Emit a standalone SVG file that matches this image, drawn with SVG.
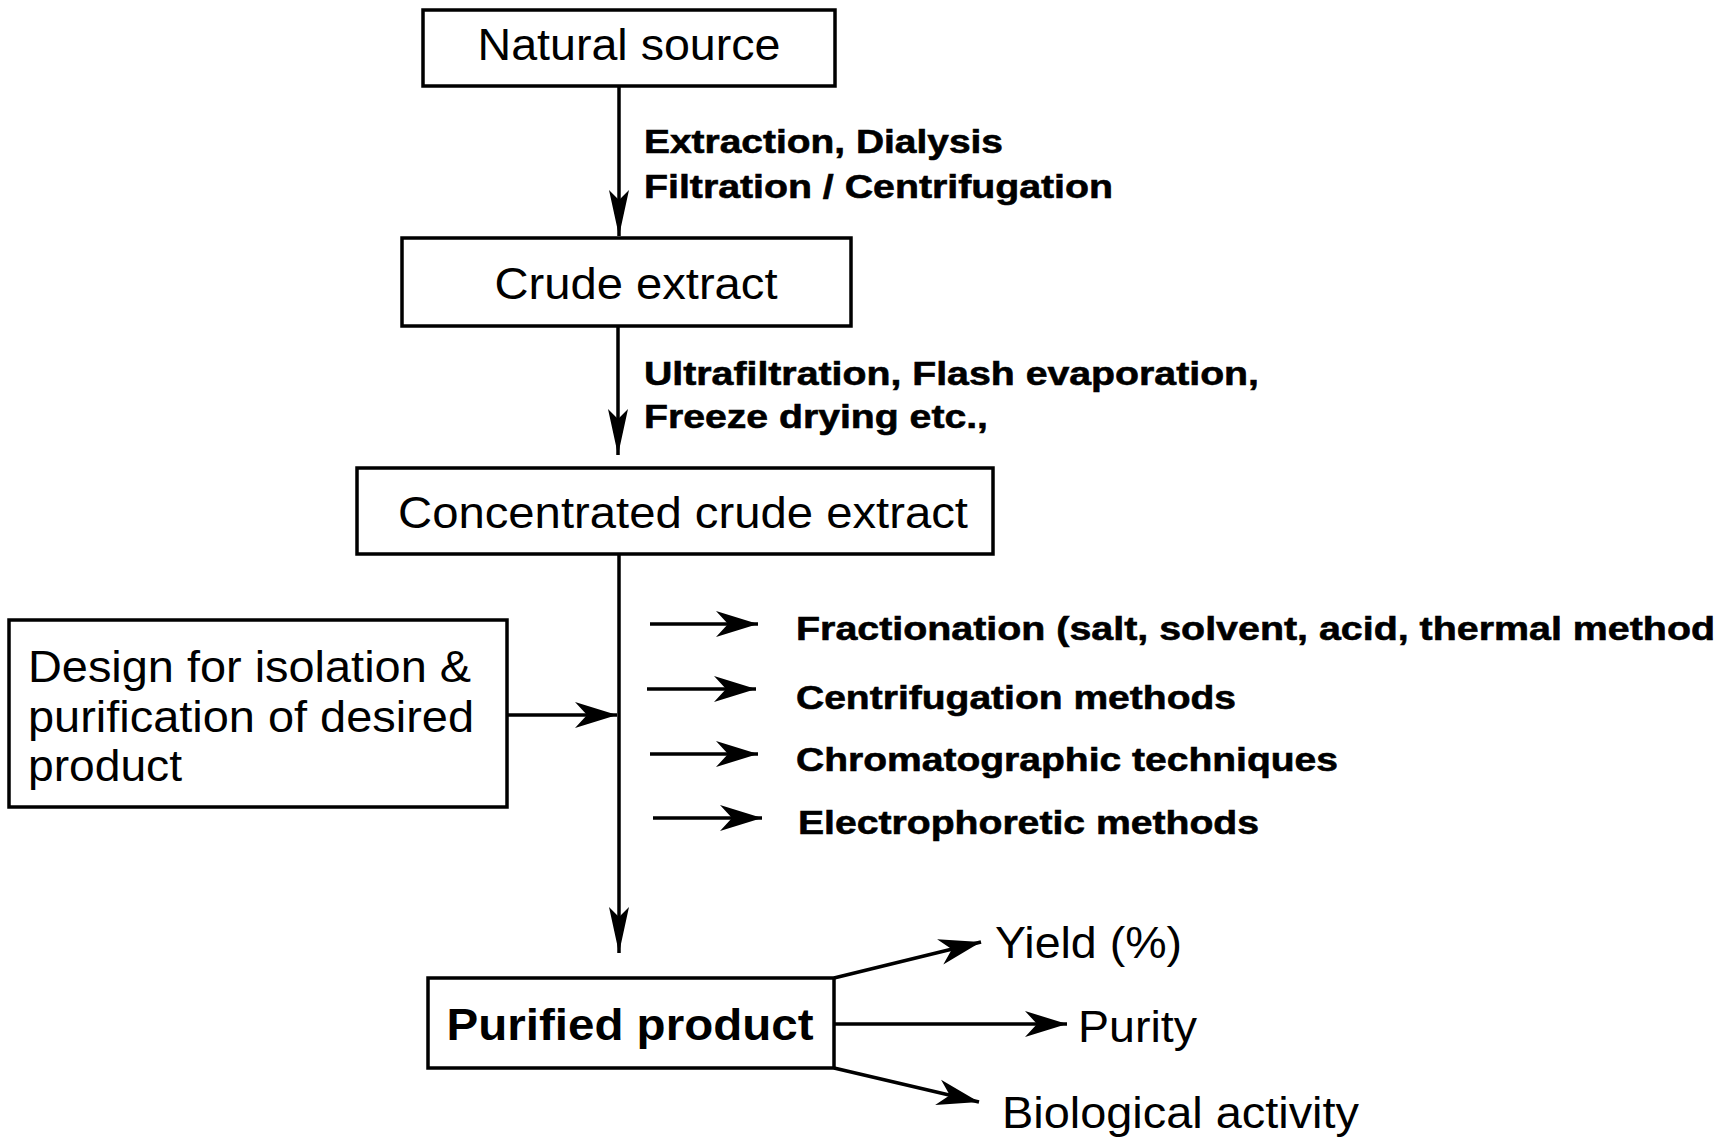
<svg xmlns="http://www.w3.org/2000/svg" width="1728" height="1137" viewBox="0 0 1728 1137">
<style>
.box{fill:#fff;stroke:#000;stroke-width:3.5}
.t{font-family:"Liberation Sans",Arial,sans-serif;font-size:45px;fill:#000}
.tc{text-anchor:middle}
.b{font-family:"Liberation Sans",Arial,sans-serif;font-size:34px;font-weight:bold;fill:#000;stroke:#000;stroke-width:0.6}
.pb{font-family:"Liberation Sans",Arial,sans-serif;font-size:45px;font-weight:bold;fill:#000}
.c{stroke:#000;stroke-width:3.5;fill:none}
</style>
<defs>
<marker id="arr" markerUnits="userSpaceOnUse" viewBox="-50 -14 54 28" markerWidth="54" markerHeight="28" refX="0" refY="0" orient="auto">
<path d="M0,0 L-46,-10 L-36,0 L-46,10 Z" fill="#000"/>
</marker>
<marker id="arrs" markerUnits="userSpaceOnUse" viewBox="-46 -16 50 32" markerWidth="50" markerHeight="32" refX="0" refY="0" orient="auto">
<path d="M0,0 L-42,-13 L-30,0 L-42,13 Z" fill="#000"/>
</marker>
</defs>
<rect width="1728" height="1137" fill="#fff"/>
<g id="connectors">
<line class="c" x1="619" y1="86" x2="619" y2="236" marker-end="url(#arr)"/>
<line class="c" x1="618" y1="326" x2="618" y2="455" marker-end="url(#arr)"/>
<line class="c" x1="619" y1="554" x2="619" y2="953" marker-end="url(#arr)"/>
<line class="c" x1="507" y1="715" x2="617" y2="715" marker-end="url(#arrs)"/>
<line class="c" x1="650" y1="624" x2="758" y2="624" marker-end="url(#arrs)"/>
<line class="c" x1="647" y1="689" x2="756" y2="689" marker-end="url(#arrs)"/>
<line class="c" x1="650" y1="754" x2="758" y2="754" marker-end="url(#arrs)"/>
<line class="c" x1="653" y1="818" x2="762" y2="818" marker-end="url(#arrs)"/>
<line class="c" x1="834" y1="978" x2="981" y2="942" marker-end="url(#arrs)"/>
<line class="c" x1="834" y1="1024" x2="1067" y2="1024" marker-end="url(#arrs)"/>
<line class="c" x1="834" y1="1068" x2="979" y2="1102" marker-end="url(#arrs)"/>
<text class="b" x="644" y="153" textLength="359" lengthAdjust="spacingAndGlyphs">Extraction, Dialysis</text>
<text class="b" x="644" y="198" textLength="469" lengthAdjust="spacingAndGlyphs">Filtration / Centrifugation</text>
<text class="b" x="644" y="385" textLength="615" lengthAdjust="spacingAndGlyphs">Ultrafiltration, Flash evaporation,</text>
<text class="b" x="644" y="428" textLength="344" lengthAdjust="spacingAndGlyphs">Freeze drying etc.,</text>
</g>
<g id="natural-source">
<rect class="box" x="423" y="10" width="412" height="76"/>
<text class="t tc" x="629" y="60" textLength="303" lengthAdjust="spacingAndGlyphs">Natural source</text>
</g>
<g id="crude-extract">
<rect class="box" x="402" y="238" width="449" height="88"/>
<text class="t tc" x="636" y="299" textLength="283" lengthAdjust="spacingAndGlyphs">Crude extract</text>
</g>
<g id="concentrated-crude-extract">
<rect class="box" x="357" y="468" width="636" height="86"/>
<text class="t tc" x="683" y="528" textLength="570" lengthAdjust="spacingAndGlyphs">Concentrated crude extract</text>
</g>
<g id="design">
<rect class="box" x="9" y="620" width="498" height="187"/>
<text class="t" x="28" y="682" textLength="443" lengthAdjust="spacingAndGlyphs">Design for isolation &amp;</text>
<text class="t" x="28" y="732" textLength="446" lengthAdjust="spacingAndGlyphs">purification of desired</text>
<text class="t" x="28" y="781" textLength="154" lengthAdjust="spacingAndGlyphs">product</text>
</g>
<g id="methods">
<text class="b" x="796" y="640" textLength="919" lengthAdjust="spacingAndGlyphs">Fractionation (salt, solvent, acid, thermal method</text>
<text class="b" x="796" y="709" textLength="440" lengthAdjust="spacingAndGlyphs">Centrifugation methods</text>
<text class="b" x="796" y="771" textLength="542" lengthAdjust="spacingAndGlyphs">Chromatographic techniques</text>
<text class="b" x="798" y="834" textLength="461" lengthAdjust="spacingAndGlyphs">Electrophoretic methods</text>
</g>
<g id="purified-product">
<rect class="box" x="428" y="978" width="406" height="90"/>
<text class="pb tc" x="630" y="1040" textLength="367" lengthAdjust="spacingAndGlyphs">Purified product</text>
</g>
<g id="outcomes">
<text class="t" x="995" y="958" textLength="187" lengthAdjust="spacingAndGlyphs">Yield (%)</text>
<text class="t" x="1078" y="1042" textLength="119" lengthAdjust="spacingAndGlyphs">Purity</text>
<text class="t" x="1002" y="1128" textLength="357" lengthAdjust="spacingAndGlyphs">Biological activity</text>
</g>
</svg>
